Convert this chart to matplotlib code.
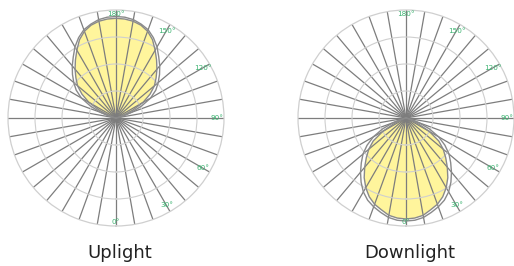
import numpy as np
import matplotlib
matplotlib.use("Agg")
import matplotlib.pyplot as plt

# Angles from the main beam axis (degrees)
gamma = [0, 5, 10, 15, 20, 25, 30, 35, 40, 45, 50, 55, 60, 65, 70, 75, 80, 85, 90]

# Relative intensity (fraction of outer circle), two planes per luminaire
up_c0 = [0.923, 0.92, 0.91, 0.89, 0.855, 0.80, 0.725, 0.655, 0.59, 0.525, 0.465,
         0.385, 0.29, 0.17, 0.07, 0.02, 0.0, 0.0, 0.0]
up_c90 = [0.94, 0.937, 0.925, 0.90, 0.87, 0.82, 0.76, 0.69, 0.63, 0.57, 0.51,
          0.45, 0.37, 0.26, 0.15, 0.07, 0.02, 0.0, 0.0]
down_c0 = [0.935, 0.93, 0.915, 0.88, 0.85, 0.805, 0.745, 0.675, 0.595, 0.52, 0.45,
           0.37, 0.25, 0.12, 0.04, 0.01, 0.0, 0.0, 0.0]
down_c90 = [0.954, 0.95, 0.935, 0.905, 0.875, 0.84, 0.79, 0.725, 0.655, 0.585, 0.52,
            0.44, 0.35, 0.24, 0.13, 0.05, 0.01, 0.0, 0.0]

angle_labels = ["0°", "30°", "60°", "90°", "120°", "150°", "180°"]
label_angles = [0, 30, 60, 90, 120, 150, 180]
titles = ["Uplight", "Downlight"]

W, H = 514, 266
fig = plt.figure(figsize=(W / 100, H / 100), dpi=100)

R = 108
centers = [(116, 118), (406, 118)]

GREEN = "#3cb371"
SPOKE = "#7d7d7d"
RING = "#cfcfcf"
CURVE = "#8a8a8a"
FILL = "#fff59c"


def full_curve(vals, up):
    g = np.array(gamma, dtype=float)
    v = np.array(vals, dtype=float)
    # mirror on both sides of the axis
    gg = np.concatenate([-g[::-1], g[1:]])
    vv = np.concatenate([v[::-1], v[1:]])
    th = 180 - gg if up else gg
    return np.deg2rad(th), vv


for i, (cx, cy) in enumerate(centers):
    ax = fig.add_axes([(cx - R) / W, (H - cy - R) / H, 2 * R / W, 2 * R / H],
                      projection="polar")
    ax.set_theta_zero_location("S")
    ax.set_theta_direction(1)
    ax.set_ylim(0, 1)
    ax.set_rticks([0.25, 0.5, 0.75])
    ax.set_yticklabels([])
    ax.set_thetagrids(np.arange(0, 360, 10), labels=[])
    ax.tick_params(axis="both", length=0, pad=0)
    for gl in ax.xaxis.get_gridlines():
        gl.set_color(SPOKE)
        gl.set_linewidth(0.9)
        gl.set_linestyle("-")
    for gl in ax.yaxis.get_gridlines():
        gl.set_color(RING)
        gl.set_linewidth(0.8)
        gl.set_linestyle("-")
    ax.spines["polar"].set_color(RING)
    ax.spines["polar"].set_linewidth(0.9)
    ax.patch.set_facecolor("white")

    up = (i == 0)
    c0 = up_c0 if up else down_c0
    c90 = up_c90 if up else down_c90
    th0, r0 = full_curve(c0, up)
    th90, r90 = full_curve(c90, up)
    ax.fill(th0, r0, color=FILL, zorder=1, lw=0)
    ax.plot(th0, r0, color=CURVE, lw=1.0, zorder=3)
    ax.plot(th90, r90, color=CURVE, lw=1.0, zorder=3)

    for a, lab in zip(label_angles, angle_labels):
        rr = 0.96 if a in (0, 180) else 0.935
        ax.text(np.deg2rad(a), rr, lab, color=GREEN, fontsize=5.2,
                ha="center", va="center", zorder=5,
                family=["Liberation Sans Narrow", "DejaVu Sans"])

    fig.text(cx / W + (0.008 if up else 0.008), 1 - 253 / H, titles[i],
             ha="center", va="center", fontsize=13, color="#222222",
             family=["DejaVu Sans"])

fig.savefig("out.png", dpi=100, facecolor="white")
